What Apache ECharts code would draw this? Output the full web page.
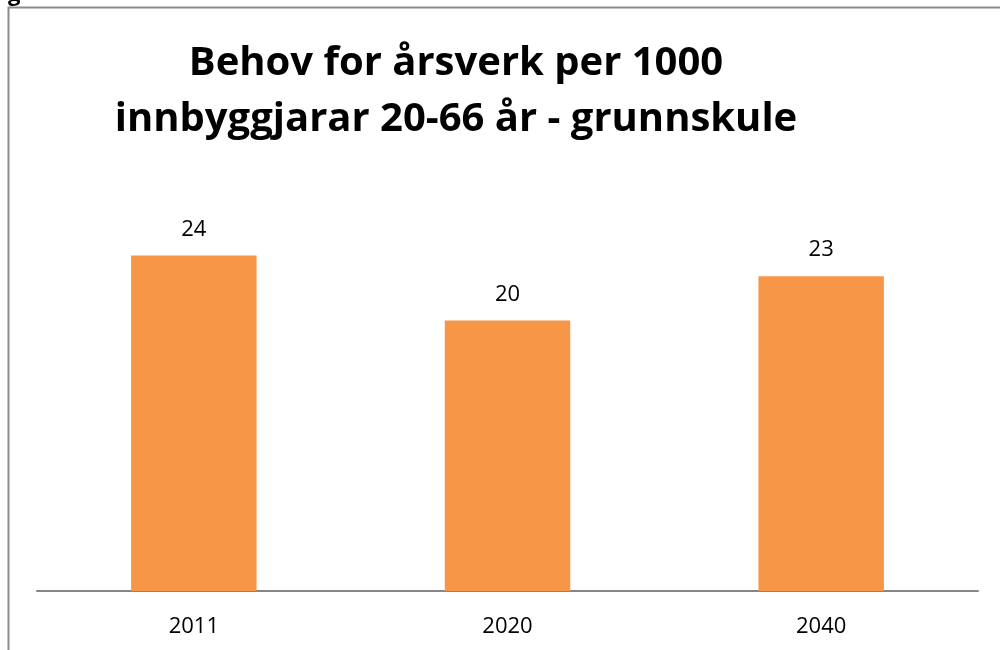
<!DOCTYPE html>
<html>
<head>
<meta charset="utf-8">
<script src="https://cdn.jsdelivr.net/npm/echarts@6/dist/echarts.min.js"></script>
<style>
  html, body { margin: 0; padding: 0; background: #fff; }
  #main { width: 1000px; height: 650px; }
</style>
</head>
<body>
<div id="main"></div>
<script>
// data (labels are rounded)
var years = ['2011', '2020', '2040'];
var values = [24.2, 19.5, 22.7];

var myChart = echarts.init(document.getElementById('main'));

var option = {
    animation: false,
    title: {
        text: 'Behov for årsverk per 1000\ninnbyggjarar 20-66 år - grunnskule',
        left: 451,
        top: 31,
        textAlign: 'center',
        textStyle: {
            fontFamily: 'Open Sans',
            fontWeight: 'bold',
            fontSize: 40,
            lineHeight: 56,
            color: '#000'
        }
    },
    graphic: [{
        type: 'rect',
        shape: { x: 8.5, y: 7.5, width: 1100, height: 800 },
        style: { fill: 'none', stroke: '#8c8c8c', lineWidth: 2 },
        silent: true
    }, {
        type: 'text',
        left: 8,
        top: -16,
        style: { text: 'g', font: 'bold 22px "Open Sans"', fill: '#000' }
    }],
    grid: {
        left: 37,
        right: 22,
        top: 175,
        bottom: 59
    },
    xAxis: {
        type: 'category',
        data: years,
        axisTick: { show: false },
        axisLine: { lineStyle: { color: '#868686', width: 2 } },
        axisLabel: {
            margin: 25,
            fontSize: 22,
            fontFamily: 'Open Sans',
            color: '#000'
        }
    },
    yAxis: {
        type: 'value',
        min: 0,
        max: 30,
        show: false,
        splitLine: { show: false }
    },
    series: [{
        type: 'bar',
        data: values,
        barWidth: '40%',
        itemStyle: { color: '#F79646' },
        label: {
            show: true,
            position: 'top',
            distance: 15,
            fontSize: 22,
            fontFamily: 'Open Sans',
            color: '#000',
            formatter: function (p) { return Math.round(p.value); }
        }
    }]
};
myChart.setOption(option);
</script>
</body>
</html>
